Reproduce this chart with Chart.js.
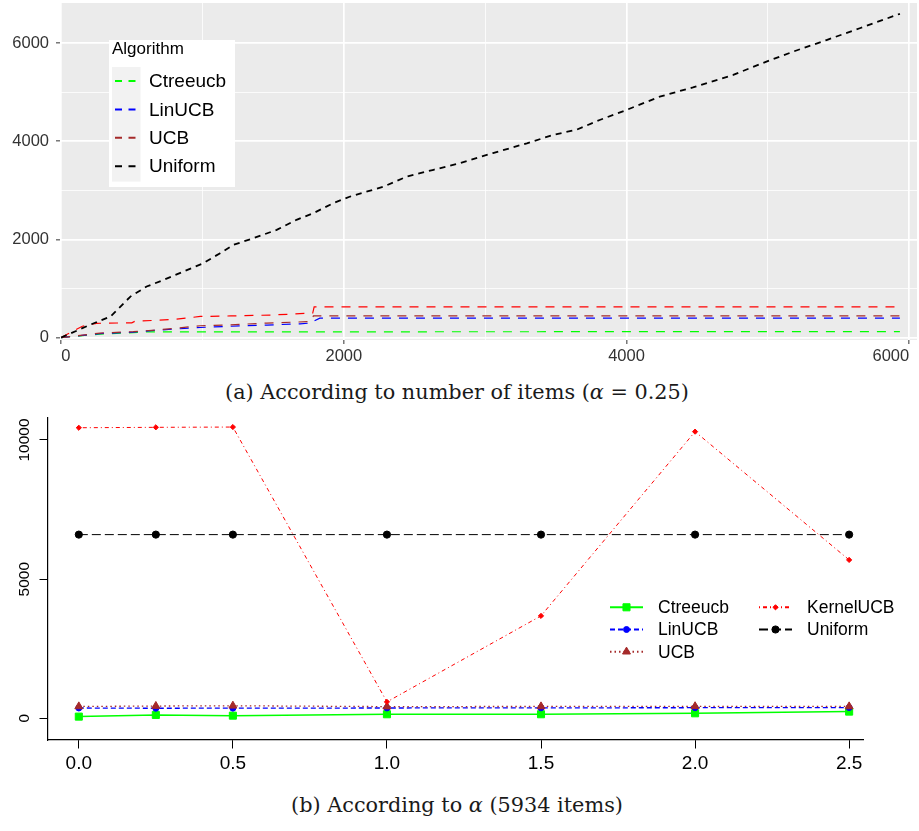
<!DOCTYPE html>
<html lang="en">
<head>
<meta charset="utf-8">
<title>Regret of bandit algorithms</title>
<script src="https://cdn.jsdelivr.net/npm/chart.js@4.4.1/dist/chart.umd.min.js"></script>
<style>
  html, body { margin: 0; padding: 0; background: #fff; }
  #page { position: relative; width: 919px; height: 831px; overflow: hidden; }
  .chart-area { position: absolute; left: 0; width: 919px; }
  #area-a { top: 0; height: 375px; }
  #area-b { top: 405px; height: 380px; }
  .caption { position: absolute; left: 0; width: 914px; text-align: center; font-family: "DejaVu Serif", serif; font-size: 20.8px; line-height: 24px; color: #1a1a1a; white-space: nowrap; }
  #cap-a { top: 380px; }
  #cap-b { top: 793px; }
</style>
</head>
<body>
<div id="page">
  <!-- (a) -->
  <div id="area-a" class="chart-area"><canvas id="chart-items"></canvas></div>
  <div id="cap-a" class="caption">(a) According to number of items (<i>α</i> = 0.25)</div>
  <!-- (b) -->
  <div id="area-b" class="chart-area"><canvas id="chart-alpha"></canvas></div>
  <div id="cap-b" class="caption">(b) According to <i>α</i> (5934 items)</div>
</div>

<script>
  // (a) cumulative regret vs number of items (alpha = 0.25)
  const uniformItems = [0, 205, 350, 490, 605, 725, 865, 1005, 1125, 1220, 1360, 1525, 1665, 1785, 1925, 2045, 2280, 2445, 2635, 2820, 3055, 3295, 3480, 3645, 3810, 4000, 4235, 4470, 4755, 4990, 5180, 5415, 5650, 5934];
  const uniformRegret = [0, 260, 430, 835, 1040, 1175, 1345, 1515, 1720, 1890, 2025, 2195, 2400, 2535, 2740, 2875, 3075, 3280, 3420, 3555, 3760, 3960, 4130, 4235, 4435, 4640, 4910, 5100, 5355, 5625, 5830, 6065, 6305, 6600];
  const ucbItems = [0, 275, 510, 700, 985, 1200, 1455, 1760, 1785, 5934];
  const ucbRegret = [0, 90, 120, 160, 240, 260, 295, 325, 440, 440];
  const linucbItems = [0, 275, 510, 700, 985, 1200, 1455, 1690, 1780, 1785, 1830, 5934];
  const linucbRegret = [0, 80, 110, 155, 205, 230, 255, 280, 300, 330, 395, 395];
  const kernelucbItems = [0, 150, 250, 500, 520, 800, 985, 1200, 1500, 1780, 1790, 5934];
  const kernelucbRegret = [0, 230, 290, 300, 330, 370, 430, 440, 460, 500, 625, 625];
  const ctreeucbItems = [0, 275, 510, 600, 5934];
  const ctreeucbRegret = [0, 70, 100, 115, 122];

  const topLegendNames = ['Ctreeucb', 'LinUCB', 'UCB', 'Uniform'];
  const itemGrid = [0, 1000, 2000, 3000, 4000, 5000, 6000];
  const itemTicks = [0, 2000, 4000, 6000];
  const regretGrid = [0, 1000, 2000, 3000, 4000, 5000, 6000];
  const regretTicks = [0, 2000, 4000, 6000];

  // (b) final regret vs alpha (5934 items)
  const alphaValues = [0, 0.25, 0.5, 1, 1.5, 2, 2.5];
  const ctreeucbByAlpha = [60, 120, 95, 145, 145, 180, 240];
  const linucbByAlpha = [370, 360, 365, 370, 375, 380, 385];
  const ucbByAlpha = [425, 440, 450, 420, 425, 430, 425];
  const kernelucbByAlpha = [10440, 10455, 10465, 590, 3680, 10300, 5690];
  const uniformByAlpha = [6600, 6600, 6600, 6600, 6600, 6600, 6600];

  const alphaTicks = [0, 0.5, 1, 1.5, 2, 2.5];
  const alphaTickLabels = ['0.0', '0.5', '1.0', '1.5', '2.0', '2.5'];
  const regretTicksB = [0, 5000, 10000];

  const SANS = "'Liberation Sans', Arial, Helvetica, sans-serif";

  function pairs(xs, ys) {
    return xs.map((x, i) => ({ x: x, y: ys[i] }));
  }

  // grey ggplot panel
  const panelBackground = {
    id: 'panelBackground',
    beforeDraw(chart, args, opts) {
      const a = chart.chartArea;
      const ctx = chart.ctx;
      ctx.save();
      ctx.fillStyle = opts.color;
      ctx.fillRect(a.left, a.top, a.right - a.left, a.bottom - a.top);
      ctx.restore();
    }
  };

  // ggplot style legend box inside the panel
  const boxLegend = {
    id: 'boxLegend',
    afterDatasetsDraw(chart, args, opts) {
      const ctx = chart.ctx;
      const sets = opts.names.map(n => chart.data.datasets.find(d => d.label === n));
      ctx.save();
      ctx.fillStyle = '#fff';
      ctx.fillRect(opts.x, opts.y, opts.w, opts.h);
      ctx.fillStyle = '#f2f2f2';
      ctx.fillRect(opts.x + 3, opts.y + 27, 28.5, opts.rowH * sets.length + 1);
      ctx.fillStyle = '#000';
      ctx.textBaseline = 'middle';
      ctx.font = '17px ' + SANS;
      ctx.fillText(opts.title, opts.x + 3, opts.y + 9);
      sets.forEach((ds, i) => {
        const cy = opts.y + 41 + i * opts.rowH;
        ctx.strokeStyle = ds.borderColor;
        ctx.lineWidth = 2;
        ctx.setLineDash([7, 6.5]);
        ctx.beginPath();
        ctx.moveTo(opts.x + 6, cy);
        ctx.lineTo(opts.x + 27, cy);
        ctx.stroke();
        ctx.setLineDash([]);
        ctx.fillStyle = '#000';
        ctx.font = '19px ' + SANS;
        ctx.fillText(ds.label, opts.x + 40, cy + 1);
      });
      ctx.restore();
    }
  };

  // R style rotated y labels
  const rotatedYLabels = {
    id: 'rotatedYLabels',
    afterDraw(chart, args, opts) {
      const ctx = chart.ctx;
      const scale = chart.scales.y;
      ctx.save();
      ctx.font = opts.size + 'px ' + SANS;
      ctx.fillStyle = '#000';
      ctx.textAlign = 'center';
      ctx.textBaseline = 'alphabetic';
      scale.ticks.forEach(t => {
        ctx.save();
        ctx.translate(opts.x, scale.getPixelForValue(t.value));
        ctx.rotate(-Math.PI / 2);
        ctx.fillText(String(t.value), 0, 0);
        ctx.restore();
      });
      ctx.restore();
    }
  };

  // R style legend, two columns, no frame
  const pointLegend = {
    id: 'pointLegend',
    afterDraw(chart, args, opts) {
      const ctx = chart.ctx;
      ctx.save();
      chart.data.datasets.forEach((ds, i) => {
        const col = Math.floor(i / opts.perCol);
        const row = i % opts.perCol;
        const x0 = opts.x + col * opts.colW;
        const cy = opts.y + row * opts.rowH;
        ctx.strokeStyle = ds.borderColor;
        ctx.lineWidth = 2;
        ctx.setLineDash(ds.borderDash || []);
        ctx.beginPath();
        ctx.moveTo(x0, cy);
        ctx.lineTo(x0 + 33, cy);
        ctx.stroke();
        ctx.setLineDash([]);
        ctx.fillStyle = ds.pointBackgroundColor;
        ctx.strokeStyle = ds.pointBorderColor;
        ctx.lineWidth = 1;
        Chart.helpers.drawPoint(ctx, { pointStyle: ds.pointStyle, radius: ds.pointRadius, borderWidth: 1, rotation: 0 }, x0 + 16.5, cy);
        ctx.fillStyle = '#000';
        ctx.font = '17.5px ' + SANS;
        ctx.textBaseline = 'middle';
        ctx.fillText(ds.label, x0 + 48, cy + 1);
      });
      ctx.restore();
    }
  };

  function topLine(label, color, xs, ys, width, dash, order) {
    return {
      label: label,
      data: pairs(xs, ys),
      borderColor: color,
      backgroundColor: color,
      borderWidth: width,
      borderDash: dash,
      pointRadius: 0,
      tension: 0,
      fill: false,
      order: order
    };
  }

  const tickFontTop = { family: SANS, size: 16.5 };

  new Chart(document.getElementById('chart-items'), {
    type: 'line',
    data: {
      datasets: [
        topLine('Ctreeucb', '#00ff00', ctreeucbItems, ctreeucbRegret, 1.2, [9, 8], 4),
        topLine('KernelUCB', '#ff0000', kernelucbItems, kernelucbRegret, 1.2, [9, 8], 3),
        topLine('LinUCB', '#0000ff', linucbItems, linucbRegret, 1.2, [9, 8], 2),
        topLine('UCB', '#a52a2a', ucbItems, ucbRegret, 1.2, [9, 8], 1),
        topLine('Uniform', '#000000', uniformItems, uniformRegret, 1.8, [6, 5], 0)
      ]
    },
    options: {
      responsive: true,
      maintainAspectRatio: false,
      animation: false,
      events: [],
      layout: { padding: { top: 3, right: 2, left: 0, bottom: 0 } },
      plugins: {
        legend: { display: false },
        tooltip: { enabled: false },
        panelBackground: { color: '#ebebeb' },
        boxLegend: { names: topLegendNames, title: 'Algorithm', x: 109, y: 40, w: 126, h: 147, rowH: 28.4 }
      },
      scales: {
        x: {
          type: 'linear',
          min: -8,
          max: 6055,
          afterBuildTicks: s => { s.ticks = itemGrid.map(v => ({ value: v })); },
          afterFit: s => { s.height = 35; s.paddingLeft = 0; s.paddingRight = 0; },
          border: { display: false },
          grid: {
            color: '#ffffff',
            lineWidth: c => itemTicks.includes(c.tick.value) ? 1.7 : 0.8,
            tickColor: c => itemTicks.includes(c.tick.value) ? '#333333' : 'rgba(0,0,0,0)',
            tickLength: 4,
            tickWidth: 1
          },
          ticks: {
            autoSkip: false,
            maxRotation: 0,
            align: 'inner',
            padding: 3,
            color: '#333333',
            font: tickFontTop,
            callback: v => itemTicks.includes(v) ? String(v) : ''
          }
        },
        y: {
          type: 'linear',
          min: -50,
          max: 6820,
          afterBuildTicks: s => { s.ticks = regretGrid.map(v => ({ value: v })); },
          afterFit: s => { s.width = 60; s.paddingTop = 0; s.paddingBottom = 0; },
          border: { display: false },
          grid: {
            color: '#ffffff',
            lineWidth: c => regretTicks.includes(c.tick.value) ? 1.7 : 0.8,
            tickColor: c => regretTicks.includes(c.tick.value) ? '#333333' : 'rgba(0,0,0,0)',
            tickLength: 4,
            tickWidth: 1
          },
          ticks: {
            autoSkip: false,
            padding: 7,
            color: '#333333',
            font: tickFontTop,
            callback: v => regretTicks.includes(v) ? String(v) : ''
          }
        }
      }
    },
    plugins: [panelBackground, boxLegend]
  });

  function alphaLine(label, color, ys, width, dash, style, radius, order) {
    return {
      label: label,
      data: pairs(alphaValues, ys),
      borderColor: color,
      backgroundColor: color,
      borderWidth: width,
      borderDash: dash,
      pointStyle: style,
      pointRadius: radius,
      pointBackgroundColor: color,
      pointBorderColor: color,
      pointBorderWidth: 1,
      tension: 0,
      fill: false,
      order: order
    };
  }

  new Chart(document.getElementById('chart-alpha'), {
    type: 'line',
    data: {
      datasets: [
        alphaLine('Ctreeucb', '#00ff00', ctreeucbByAlpha, 1.5, [], 'rect', 5, 5),
        alphaLine('LinUCB', '#0000ff', linucbByAlpha, 1.3, [5, 3], 'circle', 3, 4),
        alphaLine('UCB', '#a52a2a', ucbByAlpha, 1.3, [1.5, 3], 'triangle', 4.6, 3),
        alphaLine('KernelUCB', '#ff0000', kernelucbByAlpha, 1, [1, 3, 4, 3], 'rectRot', 2.6, 2),
        alphaLine('Uniform', '#000000', uniformByAlpha, 1, [9, 4], 'circle', 3.6, 1)
      ]
    },
    options: {
      responsive: true,
      maintainAspectRatio: false,
      animation: false,
      events: [],
      layout: { padding: { top: 13, right: 56, left: 0, bottom: 0 } },
      plugins: {
        legend: { display: false },
        tooltip: { enabled: false },
        rotatedYLabels: { x: 28.5, size: 15.5 },
        pointLegend: { x: 610, y: 202.3, perCol: 3, colW: 149, rowH: 22.2 }
      },
      scales: {
        x: {
          type: 'linear',
          min: -0.1,
          max: 2.545,
          afterBuildTicks: s => { s.ticks = alphaTicks.map(v => ({ value: v })); },
          afterFit: s => { s.height = 45; },
          border: { display: true, color: '#000', width: 1.2 },
          grid: { drawOnChartArea: false, drawTicks: true, tickLength: 8.5, tickColor: '#000', tickWidth: 1 },
          ticks: {
            autoSkip: false,
            maxRotation: 0,
            padding: 4,
            color: '#000',
            font: { family: SANS, size: 19 },
            callback: v => alphaTickLabels[alphaTicks.indexOf(v)]
          }
        },
        y: {
          type: 'linear',
          min: -780,
          max: 10790,
          afterBuildTicks: s => { s.ticks = regretTicksB.map(v => ({ value: v })); },
          afterFit: s => { s.width = 48; },
          border: { display: true, color: '#000', width: 1.2 },
          grid: { drawOnChartArea: false, drawTicks: true, tickLength: 8.5, tickColor: '#000', tickWidth: 1 },
          ticks: { display: false }
        }
      }
    },
    plugins: [rotatedYLabels, pointLegend]
  });
</script>
</body>
</html>
